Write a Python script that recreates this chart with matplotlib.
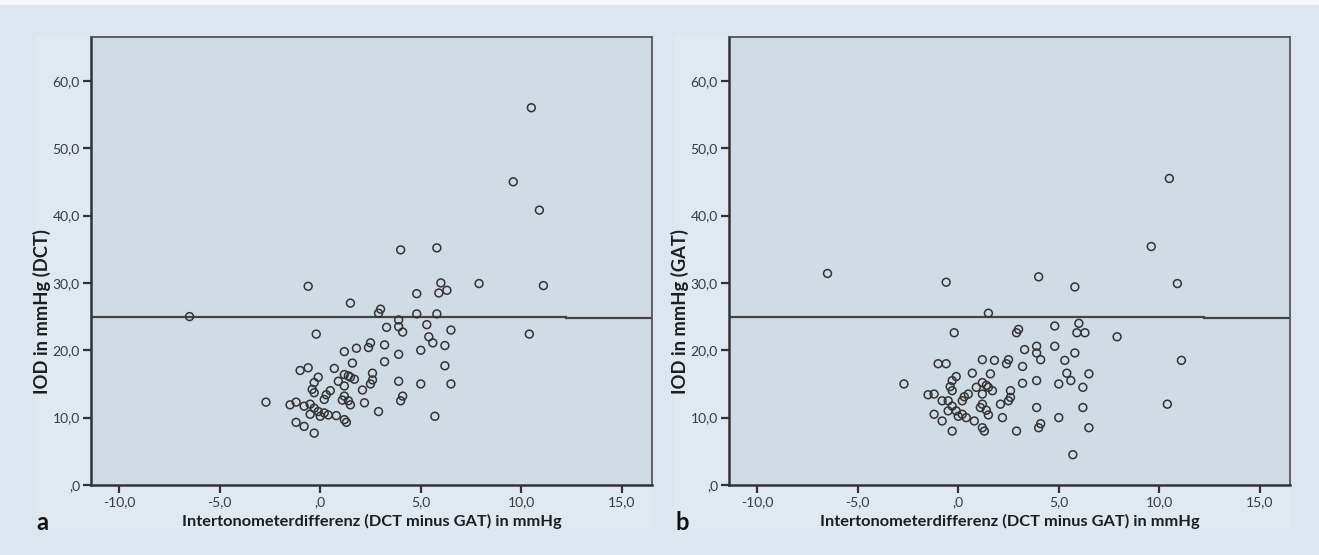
import matplotlib.pyplot as plt
from matplotlib.patches import Rectangle
from matplotlib.ticker import FuncFormatter

plt.rcParams['font.family'] = ['Lato', 'DejaVu Sans']

# Intertonometerdifferenz (DCT minus GAT), same for both panels
diff = [10.5, 9.6, 10.9, 11.1, 10.4, 7.9, 4.0, 5.8, 6.0, 5.9,
        6.3, 4.8, 4.8, 5.8, -0.6, 1.5, 3.0, 2.9, -6.5, 3.9,
        3.9, 3.3, 4.1, 5.3, 6.5, 5.4, 5.6, 6.2, -0.2, 2.5,
        2.4, 3.2, 1.8, 1.2, 3.9, 5.0, 1.6, 3.2, 6.2, -1.0,
        -0.6, 0.7, 2.6, 1.2, 1.4, 1.5, 1.7, -0.1, -0.3, 0.9,
        2.6, 2.5, 1.2, 3.9, 5.0, 6.5, -0.4, -0.3, 0.5, 2.1,
        0.3, 0.2, 1.2, 1.1, 1.4, 1.5, 2.2, 4.1, 4.0, -2.7,
        -1.5, -1.2, -0.8, -0.5, -0.3, -0.1, -0.5, 0.0, 0.2, 0.4,
        0.8, 2.9, 5.7, -1.2, -0.8, 1.2, 1.3, -0.3]

# IOD in mmHg (DCT)
iod_dct = [56.0, 45.0, 40.8, 29.6, 22.4, 29.9, 34.9, 35.2, 30.0, 28.5,
           28.9, 28.4, 25.4, 25.4, 29.5, 27.0, 26.1, 25.5, 25.0, 24.5,
           23.5, 23.4, 22.7, 23.8, 23.0, 22.0, 21.1, 20.7, 22.4, 21.1,
           20.4, 20.8, 20.3, 19.8, 19.4, 20.0, 18.1, 18.3, 17.7, 17.0,
           17.4, 17.3, 16.6, 16.4, 16.2, 16.0, 15.7, 16.0, 15.2, 15.4,
           15.6, 15.0, 14.7, 15.4, 15.0, 15.0, 14.2, 13.7, 14.0, 14.1,
           13.4, 12.7, 13.2, 12.6, 12.5, 11.9, 12.2, 13.2, 12.5, 12.3,
           11.9, 12.3, 11.7, 12.0, 11.4, 10.9, 10.5, 10.2, 10.7, 10.4,
           10.3, 10.9, 10.2, 9.3, 8.7, 9.7, 9.3, 7.7]

# IOD in mmHg (GAT)
iod_gat = [45.5, 35.4, 29.9, 18.5, 12.0, 22.0, 30.9, 29.4, 24.0, 22.6,
           22.6, 23.6, 20.6, 19.6, 30.1, 25.5, 23.1, 22.6, 31.4, 20.6,
           19.6, 20.1, 18.6, 18.5, 16.5, 16.6, 15.5, 14.5, 22.6, 18.6,
           18.0, 17.6, 18.5, 18.6, 15.5, 15.0, 16.5, 15.1, 11.5, 18.0,
           18.0, 16.6, 14.0, 15.2, 14.8, 14.5, 14.0, 16.1, 15.5, 14.5,
           13.0, 12.5, 13.5, 11.5, 10.0, 8.5, 14.6, 14.0, 13.5, 12.0,
           13.1, 12.5, 12.0, 11.5, 11.1, 10.4, 10.0, 9.1, 8.5, 15.0,
           13.4, 13.5, 12.5, 12.5, 11.7, 11.0, 11.0, 10.2, 10.5, 10.0,
           9.5, 8.0, 4.5, 10.5, 9.5, 8.5, 8.0, 8.0]

x_ticks = [-10, -5, 0, 5, 10, 15]
y_ticks = [0, 10, 20, 30, 40, 50, 60]
ref_line = 25.0

BG = '#dde6ef'
FACE = '#d0dce4'
INK = '#333333'


def spss_fmt(v, pos=None):
    s = f'{v:.1f}'.replace('.', ',')
    if s.startswith('0,'):
        s = s[1:]
    return s


W, H = 1319, 555
fig = plt.figure(figsize=(W / 100, H / 100), dpi=100, facecolor=BG)

# thin light strip at top and the slightly lighter panel boxes
fig.patches.append(Rectangle((0, 1 - 5 / H), 1, 5 / H, transform=fig.transFigure,
                             facecolor='#f4f7fa', edgecolor='none', zorder=-5))
for x0, x1 in [(36, 652), (674, 1291)]:
    fig.patches.append(Rectangle((x0 / W, 1 - 528 / H), (x1 - x0) / W, (528 - 35) / H,
                                 transform=fig.transFigure, facecolor='#e0e8f0',
                                 edgecolor='none', zorder=-5))

panels = [
    (91, 652, iod_dct, 'IOD in mmHg (DCT)', 'a', 42),
    (729, 1290, iod_gat, 'IOD in mmHg (GAT)', 'b', 682),
]

for left, right, yvals, ylab, letter, letter_x in panels:
    ax = fig.add_axes([left / W, 1 - 485 / H, (right - left) / W, (485 - 37) / H])
    ax.set_facecolor(FACE)
    ax.set_xlim(-11.4, 16.5)
    ax.set_ylim(0, 66.5)

    # reference line (drawn by SPSS in two pieces)
    ax.plot([-11.4, 12.2], [ref_line, ref_line], color='#444444', lw=1.6, zorder=2)
    ax.plot([12.2, 16.5], [ref_line - 0.15, ref_line - 0.15], color='#444444', lw=1.6, zorder=2)

    ax.scatter(diff, yvals, s=32, facecolors='none', edgecolors=INK, linewidths=1.1, zorder=3)

    ax.set_xticks(x_ticks)
    ax.set_yticks(y_ticks)
    ax.xaxis.set_major_formatter(FuncFormatter(spss_fmt))
    ax.yaxis.set_major_formatter(FuncFormatter(spss_fmt))
    ax.tick_params(direction='out', length=6, width=1.6, color=INK,
                   labelsize=10, labelcolor='#3a3a3a', pad=2)

    for side in ['left', 'bottom']:
        ax.spines[side].set_linewidth(1.8)
        ax.spines[side].set_color(INK)
    for side in ['top', 'right']:
        ax.spines[side].set_linewidth(1.3)
        ax.spines[side].set_color('#555555')

    ax.set_xlabel('Intertonometerdifferenz (DCT minus GAT) in mmHg',
                  fontsize=11.8, fontweight='bold', color='#1e1e1e')
    ax.xaxis.set_label_coords(0.5, -0.064)
    ax.set_ylabel(ylab, fontsize=13.2, fontweight='bold', color='#1e1e1e')
    ax.yaxis.set_label_coords(-0.072, 0.388)

    fig.text(letter_x / W, 1 - 523 / H, letter, fontsize=17, fontweight='bold',
             color='#111111', ha='center', va='center')

plt.savefig('out.png', dpi=100, facecolor=BG)
